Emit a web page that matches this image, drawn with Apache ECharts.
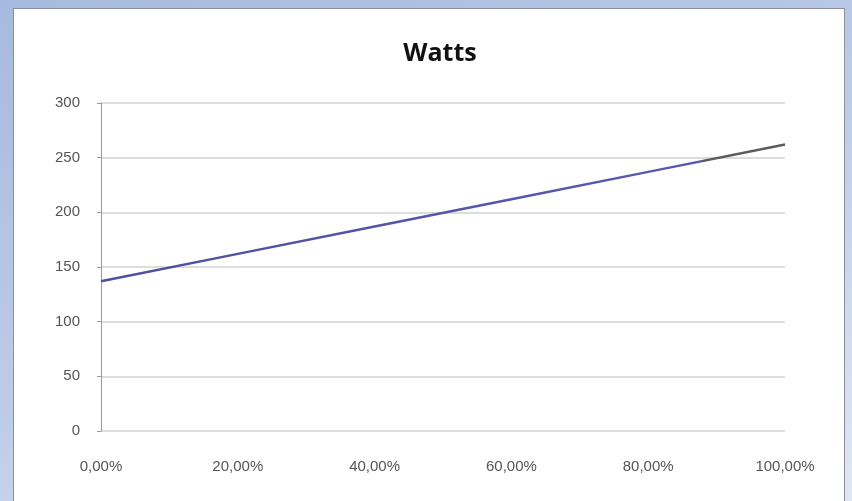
<!DOCTYPE html>
<html>
<head>
<meta charset="utf-8">
<script src="https://cdn.jsdelivr.net/npm/echarts@6/dist/echarts.min.js"></script>
<style>
  html, body { margin: 0; padding: 0; }
  body {
    width: 852px; height: 501px; overflow: hidden;
    background: linear-gradient(160deg, #a6badf 0%, #bccbe7 50%, #dfe7f4 100%);
    position: relative;
  }
  .panel {
    position: absolute; left: 13px; top: 8px; width: 830px; height: 500px;
    background: #ffffff; border: 1px solid #8a8f99;
  }
  #chart { position: absolute; left: 0; top: 0; width: 852px; height: 501px; }
</style>
</head>
<body>
<div class="panel"></div>
<div id="chart"></div>
<script>
// share of load (0..1) and power draw in watts
const loadShare = [0, 0.2, 0.4, 0.6, 0.8, 1.0];
const watts = [137, 162, 187, 212, 237, 262];
const yTicks = { min: 0, max: 300, interval: 50 };

const chart = echarts.init(document.getElementById("chart"), null, { renderer: "canvas" });

const option = {
  backgroundColor: "transparent",
  animation: false,
  title: {
    text: "Watts",
    left: 435,
    textAlign: "center",
    top: 36,
    textStyle: {
      fontFamily: "Open Sans, Liberation Sans, sans-serif",
      fontSize: 25,
      fontWeight: "bold",
      color: "#111111"
    }
  },
  grid: { left: 101, right: 67, top: 103, bottom: 70 },
  xAxis: {
    type: "value",
    min: 0,
    max: 1,
    interval: 0.2,
    axisLine: { show: false },
    axisTick: { show: false },
    splitLine: { show: false },
    axisLabel: {
      margin: 28,
      color: "#555555",
      fontFamily: "Liberation Sans Narrow, Liberation Sans, sans-serif",
      fontSize: 15,
      formatter: v => (v * 100).toFixed(2).replace(".", ",") + "%"
    }
  },
  yAxis: {
    type: "value",
    min: yTicks.min,
    max: yTicks.max,
    interval: yTicks.interval,
    axisLine: { show: true, lineStyle: { color: "#9a9a9a", width: 1 } },
    axisTick: { show: true, length: 4, lineStyle: { color: "#9a9a9a" } },
    splitLine: { show: true, lineStyle: { color: "#d2d2d2", width: 1.5 } },
    axisLabel: {
      margin: 21,
      color: "#555555",
      fontFamily: "Liberation Sans Narrow, Liberation Sans, sans-serif",
      fontSize: 15
    }
  },
  series: [
    {
      name: "Watts",
      type: "line",
      data: loadShare.map((x, i) => [x, watts[i]]),
      showSymbol: false,
      symbol: "none",
      lineStyle: {
        width: 2.5,
        color: {
          type: "linear", x: 0, y: 0, x2: 1, y2: 0,
          colorStops: [
            { offset: 0, color: "#4f4f9e" },
            { offset: 0.875, color: "#5a5ab4" },
            { offset: 0.876, color: "#5c5c5c" },
            { offset: 1, color: "#5c5c5c" }
          ],
          global: false
        }
      }
    }
  ]
};

chart.setOption(option);
</script>
</body>
</html>
